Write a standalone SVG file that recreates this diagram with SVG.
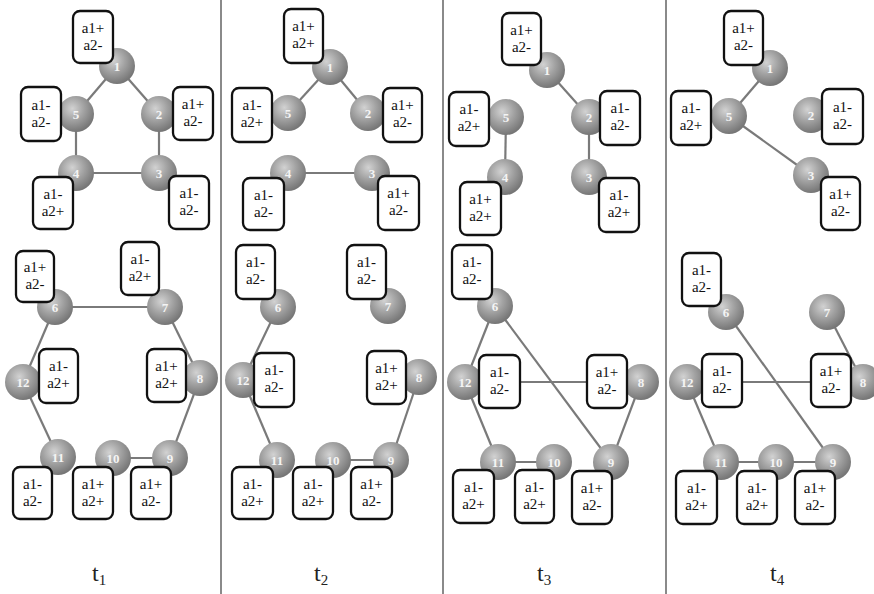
<svg xmlns="http://www.w3.org/2000/svg" width="874" height="594" viewBox="0 0 874 594">
<defs>
<radialGradient id="sph" cx="0.4" cy="0.35" r="0.65">
<stop offset="0" stop-color="#d2d2d2"/>
<stop offset="0.5" stop-color="#a2a2a2"/>
<stop offset="1" stop-color="#767676"/>
</radialGradient>
<style>
.e{stroke:#7a7a7a;stroke-width:2.2;fill:none}
.div{stroke:#8a8a8a;stroke-width:2}
.n{fill:url(#sph)}
.nt{font-family:"Liberation Serif","Times New Roman",serif;font-size:13px;font-weight:bold;fill:#f4f4f4;text-anchor:middle}
.b{fill:#fff;stroke:#111;stroke-width:2.3}
.bt{font-family:"Liberation Serif","Times New Roman",serif;font-size:15px;fill:#111;text-anchor:middle}
.lab{font-family:"Liberation Serif","Times New Roman",serif;font-size:24px;fill:#222}
.sub{font-size:15px}
</style>
</defs>
<rect width="874" height="594" fill="#fff"/>
<line class="div" x1="221" y1="0" x2="221" y2="594"/>
<line class="div" x1="443" y1="0" x2="443" y2="594"/>
<line class="div" x1="666" y1="0" x2="666" y2="594"/>
<g id="connectors">
<line class="e" x1="117" y1="66" x2="76" y2="114"/>
<line class="e" x1="117" y1="66" x2="159" y2="114"/>
<line class="e" x1="159" y1="114" x2="159" y2="173"/>
<line class="e" x1="159" y1="173" x2="76" y2="173"/>
<line class="e" x1="76" y1="173" x2="76" y2="114"/>
<line class="e" x1="55" y1="307" x2="165" y2="307"/>
<line class="e" x1="165" y1="307" x2="200" y2="378"/>
<line class="e" x1="200" y1="378" x2="170" y2="458"/>
<line class="e" x1="170" y1="458" x2="113" y2="458"/>
<line class="e" x1="58" y1="457" x2="23" y2="382"/>
<line class="e" x1="23" y1="382" x2="55" y2="307"/>
<line class="e" x1="330" y1="67" x2="288" y2="113"/>
<line class="e" x1="330" y1="67" x2="368" y2="113"/>
<line class="e" x1="288" y1="173" x2="372" y2="173"/>
<line class="e" x1="278" y1="307" x2="243" y2="380"/>
<line class="e" x1="243" y1="380" x2="277" y2="460"/>
<line class="e" x1="333" y1="460" x2="391" y2="460"/>
<line class="e" x1="391" y1="460" x2="419" y2="377"/>
<line class="e" x1="547" y1="70" x2="589" y2="117"/>
<line class="e" x1="589" y1="117" x2="589" y2="177"/>
<line class="e" x1="506" y1="117" x2="505" y2="177"/>
<line class="e" x1="495" y1="306" x2="465" y2="382"/>
<line class="e" x1="495" y1="306" x2="611" y2="462"/>
<line class="e" x1="465" y1="382" x2="498" y2="462"/>
<line class="e" x1="498" y1="462" x2="554" y2="462"/>
<line class="e" x1="611" y1="462" x2="641" y2="382"/>
<line class="e" x1="465" y1="382" x2="641" y2="382"/>
<line class="e" x1="770" y1="68" x2="729" y2="116"/>
<line class="e" x1="729" y1="116" x2="811" y2="175"/>
<line class="e" x1="827" y1="312" x2="863" y2="382"/>
<line class="e" x1="726" y1="312" x2="833" y2="462"/>
<line class="e" x1="687" y1="382" x2="863" y2="382"/>
<line class="e" x1="687" y1="382" x2="721" y2="462"/>
<line class="e" x1="721" y1="462" x2="776" y2="462"/>
<line class="e" x1="776" y1="462" x2="833" y2="462"/>
</g>

<g id="t1-n1"><circle class="n" cx="117" cy="66" r="18"/><text class="nt" x="117" y="71">1</text>
<rect class="b" x="73" y="11" width="40" height="52" rx="7"/><text class="bt" x="93" y="33">a1+</text><text class="bt" x="93" y="50">a2-</text></g>
<g id="t1-n5"><circle class="n" cx="76" cy="114" r="18"/><text class="nt" x="76" y="119">5</text>
<rect class="b" x="21" y="87" width="40" height="54" rx="7"/><text class="bt" x="41" y="110">a1-</text><text class="bt" x="41" y="127">a2-</text></g>
<g id="t1-n2"><circle class="n" cx="159" cy="114" r="18"/><text class="nt" x="159" y="119">2</text>
<rect class="b" x="173" y="87" width="40" height="53" rx="7"/><text class="bt" x="193" y="109">a1+</text><text class="bt" x="193" y="126">a2-</text></g>
<g id="t1-n4"><circle class="n" cx="76" cy="173" r="18"/><text class="nt" x="76" y="178">4</text>
<rect class="b" x="33" y="177" width="40" height="52" rx="7"/><text class="bt" x="53" y="199">a1-</text><text class="bt" x="53" y="216">a2+</text></g>
<g id="t1-n3"><circle class="n" cx="159" cy="173" r="18"/><text class="nt" x="159" y="178">3</text>
<rect class="b" x="169" y="176" width="40" height="53" rx="7"/><text class="bt" x="189" y="198">a1-</text><text class="bt" x="189" y="215">a2-</text></g>
<g id="t1-n6"><circle class="n" cx="55" cy="307" r="18"/><text class="nt" x="55" y="312">6</text>
<rect class="b" x="16" y="251" width="38" height="51" rx="7"/><text class="bt" x="35" y="272">a1+</text><text class="bt" x="35" y="289">a2-</text></g>
<g id="t1-n7"><circle class="n" cx="165" cy="307" r="18"/><text class="nt" x="165" y="312">7</text>
<rect class="b" x="121" y="242" width="38" height="53" rx="7"/><text class="bt" x="140" y="264">a1-</text><text class="bt" x="140" y="281">a2+</text></g>
<g id="t1-n8"><circle class="n" cx="200" cy="378" r="18"/><text class="nt" x="200" y="383">8</text>
<rect class="b" x="147" y="349" width="39" height="53" rx="7"/><text class="bt" x="166.5" y="371">a1+</text><text class="bt" x="166.5" y="388">a2+</text></g>
<g id="t1-n12"><circle class="n" cx="23" cy="382" r="18"/><text class="nt" x="23" y="387">12</text>
<rect class="b" x="39" y="349" width="39" height="54" rx="7"/><text class="bt" x="58.5" y="371">a1-</text><text class="bt" x="58.5" y="388">a2+</text></g>
<g id="t1-n11"><circle class="n" cx="58" cy="457" r="18"/><text class="nt" x="58" y="462">11</text>
<rect class="b" x="13" y="467" width="39" height="52" rx="7"/><text class="bt" x="32.5" y="489">a1-</text><text class="bt" x="32.5" y="506">a2-</text></g>
<g id="t1-n10"><circle class="n" cx="113" cy="458" r="18"/><text class="nt" x="113" y="463">10</text>
<rect class="b" x="73" y="467" width="40" height="52" rx="7"/><text class="bt" x="93" y="489">a1+</text><text class="bt" x="93" y="506">a2+</text></g>
<g id="t1-n9"><circle class="n" cx="170" cy="458" r="18"/><text class="nt" x="170" y="463">9</text>
<rect class="b" x="131" y="467" width="40" height="52" rx="7"/><text class="bt" x="151" y="489">a1+</text><text class="bt" x="151" y="506">a2-</text></g>

<g id="t2-n1"><circle class="n" cx="330" cy="67" r="18"/><text class="nt" x="330" y="72">1</text>
<rect class="b" x="284" y="9" width="39" height="54" rx="7"/><text class="bt" x="303.5" y="31">a1+</text><text class="bt" x="303.5" y="48">a2+</text></g>
<g id="t2-n5"><circle class="n" cx="288" cy="113" r="18"/><text class="nt" x="288" y="118">5</text>
<rect class="b" x="232" y="88" width="40" height="54" rx="7"/><text class="bt" x="252" y="110">a1-</text><text class="bt" x="252" y="127">a2+</text></g>
<g id="t2-n2"><circle class="n" cx="368" cy="113" r="18"/><text class="nt" x="368" y="118">2</text>
<rect class="b" x="383" y="88" width="39" height="54" rx="7"/><text class="bt" x="402.5" y="110">a1+</text><text class="bt" x="402.5" y="127">a2-</text></g>
<g id="t2-n4"><circle class="n" cx="288" cy="173" r="18"/><text class="nt" x="288" y="178">4</text>
<rect class="b" x="243" y="178" width="41" height="52" rx="7"/><text class="bt" x="263.5" y="200">a1-</text><text class="bt" x="263.5" y="217">a2-</text></g>
<g id="t2-n3"><circle class="n" cx="372" cy="173" r="18"/><text class="nt" x="372" y="178">3</text>
<rect class="b" x="378" y="176" width="41" height="54" rx="7"/><text class="bt" x="398.5" y="198">a1+</text><text class="bt" x="398.5" y="215">a2-</text></g>
<g id="t2-n6"><circle class="n" cx="278" cy="307" r="18"/><text class="nt" x="278" y="312">6</text>
<rect class="b" x="236" y="245" width="39" height="54" rx="7"/><text class="bt" x="255.5" y="267">a1-</text><text class="bt" x="255.5" y="284">a2-</text></g>
<g id="t2-n7"><circle class="n" cx="388" cy="306" r="18"/><text class="nt" x="388" y="311">7</text>
<rect class="b" x="347" y="245" width="39" height="54" rx="7"/><text class="bt" x="366.5" y="267">a1-</text><text class="bt" x="366.5" y="284">a2-</text></g>
<g id="t2-n8"><circle class="n" cx="419" cy="377" r="18"/><text class="nt" x="419" y="382">8</text>
<rect class="b" x="367" y="351" width="39" height="53" rx="7"/><text class="bt" x="386.5" y="373">a1+</text><text class="bt" x="386.5" y="390">a2+</text></g>
<g id="t2-n12"><circle class="n" cx="243" cy="380" r="18"/><text class="nt" x="243" y="385">12</text>
<rect class="b" x="254" y="353" width="40" height="54" rx="7"/><text class="bt" x="274" y="375">a1-</text><text class="bt" x="274" y="392">a2-</text></g>
<g id="t2-n11"><circle class="n" cx="277" cy="460" r="18"/><text class="nt" x="277" y="465">11</text>
<rect class="b" x="232" y="467" width="41" height="52" rx="7"/><text class="bt" x="252.5" y="489">a1-</text><text class="bt" x="252.5" y="506">a2+</text></g>
<g id="t2-n10"><circle class="n" cx="333" cy="460" r="18"/><text class="nt" x="333" y="465">10</text>
<rect class="b" x="293" y="467" width="40" height="52" rx="7"/><text class="bt" x="313" y="489">a1-</text><text class="bt" x="313" y="506">a2+</text></g>
<g id="t2-n9"><circle class="n" cx="391" cy="460" r="18"/><text class="nt" x="391" y="465">9</text>
<rect class="b" x="351" y="467" width="41" height="52" rx="7"/><text class="bt" x="371.5" y="489">a1+</text><text class="bt" x="371.5" y="506">a2-</text></g>

<g id="t3-n1"><circle class="n" cx="547" cy="70" r="18"/><text class="nt" x="547" y="75">1</text>
<rect class="b" x="502" y="13" width="39" height="52" rx="7"/><text class="bt" x="521.5" y="35">a1+</text><text class="bt" x="521.5" y="52">a2-</text></g>
<g id="t3-n5"><circle class="n" cx="506" cy="117" r="18"/><text class="nt" x="506" y="122">5</text>
<rect class="b" x="449" y="92" width="40" height="54" rx="7"/><text class="bt" x="469" y="114">a1-</text><text class="bt" x="469" y="131">a2+</text></g>
<g id="t3-n2"><circle class="n" cx="589" cy="117" r="18"/><text class="nt" x="589" y="122">2</text>
<rect class="b" x="600" y="91" width="40" height="54" rx="7"/><text class="bt" x="620" y="113">a1-</text><text class="bt" x="620" y="130">a2-</text></g>
<g id="t3-n4"><circle class="n" cx="505" cy="177" r="18"/><text class="nt" x="505" y="182">4</text>
<rect class="b" x="460" y="182" width="41" height="53" rx="7"/><text class="bt" x="480.5" y="204">a1+</text><text class="bt" x="480.5" y="221">a2+</text></g>
<g id="t3-n3"><circle class="n" cx="589" cy="177" r="18"/><text class="nt" x="589" y="182">3</text>
<rect class="b" x="599" y="178" width="40" height="54" rx="7"/><text class="bt" x="619" y="200">a1-</text><text class="bt" x="619" y="217">a2+</text></g>
<g id="t3-n6"><circle class="n" cx="495" cy="306" r="18"/><text class="nt" x="495" y="311">6</text>
<rect class="b" x="452" y="245" width="40" height="54" rx="7"/><text class="bt" x="472" y="267">a1-</text><text class="bt" x="472" y="284">a2-</text></g>
<g id="t3-n8"><circle class="n" cx="641" cy="382" r="18"/><text class="nt" x="641" y="387">8</text>
<rect class="b" x="587" y="355" width="40" height="53" rx="7"/><text class="bt" x="607" y="377">a1+</text><text class="bt" x="607" y="394">a2-</text></g>
<g id="t3-n12"><circle class="n" cx="465" cy="382" r="18"/><text class="nt" x="465" y="387">12</text>
<rect class="b" x="479" y="355" width="41" height="53" rx="7"/><text class="bt" x="499.5" y="377">a1-</text><text class="bt" x="499.5" y="394">a2-</text></g>
<g id="t3-n11"><circle class="n" cx="498" cy="462" r="18"/><text class="nt" x="498" y="467">11</text>
<rect class="b" x="453" y="470" width="41" height="53" rx="7"/><text class="bt" x="473.5" y="492">a1-</text><text class="bt" x="473.5" y="509">a2+</text></g>
<g id="t3-n10"><circle class="n" cx="554" cy="462" r="18"/><text class="nt" x="554" y="467">10</text>
<rect class="b" x="515" y="470" width="39" height="53" rx="7"/><text class="bt" x="534.5" y="492">a1-</text><text class="bt" x="534.5" y="509">a2+</text></g>
<g id="t3-n9"><circle class="n" cx="611" cy="462" r="18"/><text class="nt" x="611" y="467">9</text>
<rect class="b" x="572" y="471" width="40" height="53" rx="7"/><text class="bt" x="592" y="493">a1+</text><text class="bt" x="592" y="510">a2-</text></g>

<g id="t4-n1"><circle class="n" cx="770" cy="68" r="18"/><text class="nt" x="770" y="73">1</text>
<rect class="b" x="724" y="11" width="39" height="54" rx="7"/><text class="bt" x="743.5" y="33">a1+</text><text class="bt" x="743.5" y="50">a2-</text></g>
<g id="t4-n5"><circle class="n" cx="729" cy="116" r="18"/><text class="nt" x="729" y="121">5</text>
<rect class="b" x="671" y="91" width="40" height="54" rx="7"/><text class="bt" x="691" y="113">a1-</text><text class="bt" x="691" y="130">a2+</text></g>
<g id="t4-n2"><circle class="n" cx="811" cy="115" r="18"/><text class="nt" x="811" y="120">2</text>
<rect class="b" x="822" y="89" width="41" height="55" rx="7"/><text class="bt" x="842.5" y="112">a1-</text><text class="bt" x="842.5" y="129">a2-</text></g>
<g id="t4-n3"><circle class="n" cx="811" cy="175" r="18"/><text class="nt" x="811" y="180">3</text>
<rect class="b" x="821" y="177" width="39" height="53" rx="7"/><text class="bt" x="840.5" y="199">a1+</text><text class="bt" x="840.5" y="216">a2-</text></g>
<g id="t4-n6"><circle class="n" cx="726" cy="312" r="18"/><text class="nt" x="726" y="317">6</text>
<rect class="b" x="682" y="253" width="39" height="53" rx="7"/><text class="bt" x="701.5" y="275">a1-</text><text class="bt" x="701.5" y="292">a2-</text></g>
<g id="t4-n7"><circle class="n" cx="827" cy="312" r="18"/><text class="nt" x="827" y="317">7</text></g>
<g id="t4-n8"><circle class="n" cx="863" cy="382" r="18"/><text class="nt" x="863" y="387">8</text>
<rect class="b" x="811" y="354" width="40" height="53" rx="7"/><text class="bt" x="831" y="376">a1+</text><text class="bt" x="831" y="393">a2-</text></g>
<g id="t4-n12"><circle class="n" cx="687" cy="382" r="18"/><text class="nt" x="687" y="387">12</text>
<rect class="b" x="702" y="354" width="40" height="53" rx="7"/><text class="bt" x="722" y="376">a1-</text><text class="bt" x="722" y="393">a2-</text></g>
<g id="t4-n11"><circle class="n" cx="721" cy="462" r="18"/><text class="nt" x="721" y="467">11</text>
<rect class="b" x="676" y="471" width="41" height="53" rx="7"/><text class="bt" x="696.5" y="493">a1-</text><text class="bt" x="696.5" y="510">a2+</text></g>
<g id="t4-n10"><circle class="n" cx="776" cy="462" r="18"/><text class="nt" x="776" y="467">10</text>
<rect class="b" x="737" y="471" width="40" height="53" rx="7"/><text class="bt" x="757" y="493">a1-</text><text class="bt" x="757" y="510">a2+</text></g>
<g id="t4-n9"><circle class="n" cx="833" cy="462" r="18"/><text class="nt" x="833" y="467">9</text>
<rect class="b" x="795" y="471" width="40" height="53" rx="7"/><text class="bt" x="815" y="493">a1+</text><text class="bt" x="815" y="510">a2-</text></g>

<g id="labels">
<text class="lab" x="92" y="581">t<tspan class="sub" dy="4">1</tspan></text>
<text class="lab" x="314" y="581">t<tspan class="sub" dy="4">2</tspan></text>
<text class="lab" x="537" y="581">t<tspan class="sub" dy="4">3</tspan></text>
<text class="lab" x="770" y="581">t<tspan class="sub" dy="4">4</tspan></text>
</g>
</svg>
